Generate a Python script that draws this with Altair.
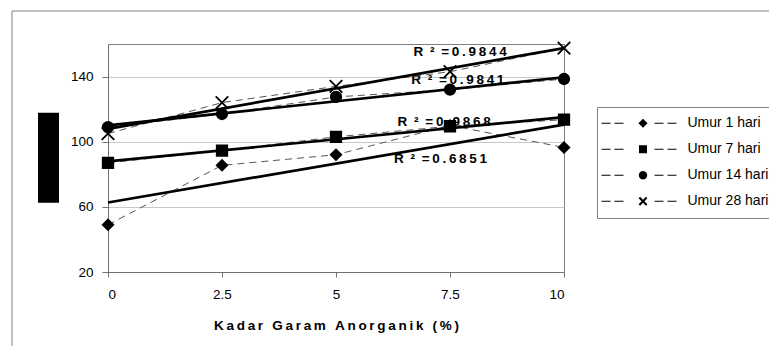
import math
import altair as alt
import pandas as pd

# ---------------- data ----------------
series_names = ["Umur 1 hari", "Umur 7 hari", "Umur 14 hari", "Umur 28 hari"]
kadar = [0, 2.5, 5, 7.5, 10]
umur_1 = [49, 85.5, 92, 110, 96.5]
umur_7 = [87, 94.5, 103, 109.5, 113.5]
umur_14 = [109, 117, 127.5, 132, 138.5]
umur_28 = [105, 124, 134, 143, 157.5]

r2_text = ["R² = 0.6851", "R² = 0.9868", "R² = 0.9841", "R² = 0.9844"]
r2_x = [6.27, 6.35, 6.65, 6.70]
r2_y = [89.2, 111.9, 137.9, 155.3]

x_ticks = [0, 2.5, 5, 7.5, 10]
y_ticks = [20, 60, 100, 140]
x_title = "Kadar Garam Anorganik (%)"

FONT = "Liberation Sans"
TS = "\u2009"  # thin space used for the letter-spaced look
EN = "\u2002"


def spaced(s):
    return TS.join(list(s))


def r2_spaced(s):
    num = s.split("= ")[1]
    return "R" + EN + "²" + EN + "=" + TS + TS.join(list(num))


rows = []
for name, vals in zip(series_names, [umur_1, umur_7, umur_14, umur_28]):
    for xv, yv in zip(kadar, vals):
        rows.append({"series": name, "x": xv, "y": yv})
df = pd.DataFrame(rows)

lab_df = pd.DataFrame({"lx": r2_x, "ly": r2_y, "lt": [r2_spaced(t) for t in r2_text]})

# ---------------- legend symbols (dashed line + marker), all filled ----------------
U = 11.5  # half side of the legend symbol, px


def P(v):
    return f"{v / U:.3f}"


mc = 30.0
dashes = [(-11.5, -2.5), (1.5, 10.5), (41.5, 50.5), (54.5, 63.5)]
dash_path = "".join(f"M{P(a)},{P(-0.55)}H{P(b)}V{P(0.55)}H{P(a)}Z" for a, b in dashes)

e = 4.6
diamond_p = f"M{P(mc - e)},0L{P(mc)},{P(-e)}L{P(mc + e)},0L{P(mc)},{P(e)}Z"
s = 4.0
square_p = f"M{P(mc - s)},{P(-s)}H{P(mc + s)}V{P(s)}H{P(mc - s)}Z"
r = 4.2
circle_p = "M" + "L".join(
    f"{P(mc + r * math.cos(2 * math.pi * k / 20))},{P(r * math.sin(2 * math.pi * k / 20))}"
    for k in range(20)) + "Z"
ex, a = 4.4, 1.5
xpts = [(-ex, -ex + a), (-ex + a, -ex), (0, -a), (ex - a, -ex), (ex, -ex + a), (a, 0),
        (ex, ex - a), (ex - a, ex), (0, a), (-ex + a, ex), (-ex, ex - a), (-a, 0)]
x_p = "M" + "L".join(f"{P(mc + px)},{P(py)}" for px, py in xpts) + "Z"

legend_paths = [dash_path + m for m in [diamond_p, square_p, circle_p, x_p]]
plot_shapes = ["diamond", "square", "circle", "M-1.2,-1.2L1.2,1.2M-1.2,1.2L1.2,-1.2"]

# ---------------- chart ----------------
xs = alt.Scale(domain=[0, 10], nice=False, zero=False)
ys = alt.Scale(domain=[20, 160], nice=False, zero=False)

x_enc = alt.X("x:Q", scale=xs, axis=alt.Axis(
    values=x_ticks, format=".1~f", grid=False, tickSize=5, tickColor="#707070",
    domainColor="#707070", labelFontSize=13.5, labelPadding=10, labelColor="black",
    title=spaced(x_title), titleFontSize=13.5, titleFontWeight="bold", titleColor="black",
    titlePadding=18))
y_enc = alt.Y("y:Q", scale=ys, axis=alt.Axis(
    values=y_ticks, grid=True, gridColor="#c8c8c8", tickSize=6, tickColor="#707070",
    domainColor="#707070", labelFontSize=13.5, labelPadding=9, labelColor="black",
    title=None))

one = pd.DataFrame({"k": [0]})
frame = alt.Chart(one).mark_rect(fillOpacity=0, stroke="#808080", strokeWidth=1).encode(
    x=alt.value(-96), x2=alt.value(900), y=alt.value(-33), y2=alt.value(500))
blackbox = alt.Chart(one).mark_rect(color="black").encode(
    x=alt.value(-70), x2=alt.value(-49), y=alt.value(68.7), y2=alt.value(158.7))

labels = alt.Chart(lab_df).mark_text(
    align="left", baseline="middle", fontWeight="bold", fontSize=13.5, font=FONT, color="black"
).encode(x=alt.X("lx:Q", scale=xs), y=alt.Y("ly:Q", scale=ys), text="lt:N")

dashed = alt.Chart(df).mark_line(color="#555555", strokeWidth=1, strokeDash=[7, 5]).encode(
    x=x_enc, y=y_enc, detail="series:N")

points = alt.Chart(df).mark_point(
    filled=True, fill="black", stroke="black", strokeWidth=1.8, size=110, opacity=1
).encode(
    x="x:Q", y="y:Q",
    shape=alt.Shape("series:N", scale=alt.Scale(domain=series_names, range=plot_shapes), legend=None))

trend = alt.Chart(df).transform_regression(
    "x", "y", groupby=["series"], extent=[0, 10]
).mark_line(color="black", strokeWidth=2.7).encode(x="x:Q", y="y:Q", detail="series:N")

legend_layer = alt.Chart(df).transform_filter("datum.x > 1000").mark_point(
    filled=True, color="black", size=529, opacity=1
).encode(
    x="x:Q", y="y:Q",
    shape=alt.Shape("series:N", scale=alt.Scale(domain=series_names, range=legend_paths),
                    legend=alt.Legend(
                        title=None, orient="none", legendX=489, legendY=63, padding=3.5,
                        labelFontSize=14, labelFont=FONT, labelColor="black", labelOffset=62,
                        clipHeight=25.5, rowPadding=0, symbolSize=529,
                        symbolFillColor="black", symbolOpacity=1,
                        strokeColor="#808080", fillColor="white")))

chart = alt.layer(
    frame, blackbox, labels, dashed, points, trend, legend_layer
).resolve_scale(shape="independent").properties(
    width=456, height=228,
    autosize=alt.AutoSizeParams(type="none"),
    padding={"left": 100, "top": 36, "right": 205, "bottom": 74},
).configure_view(stroke="#808080", strokeWidth=1).configure_axis(
    labelFont=FONT, titleFont=FONT
).configure_legend(labelFont=FONT)

chart.save("out.html", embed_options={"renderer": "svg", "actions": False})
